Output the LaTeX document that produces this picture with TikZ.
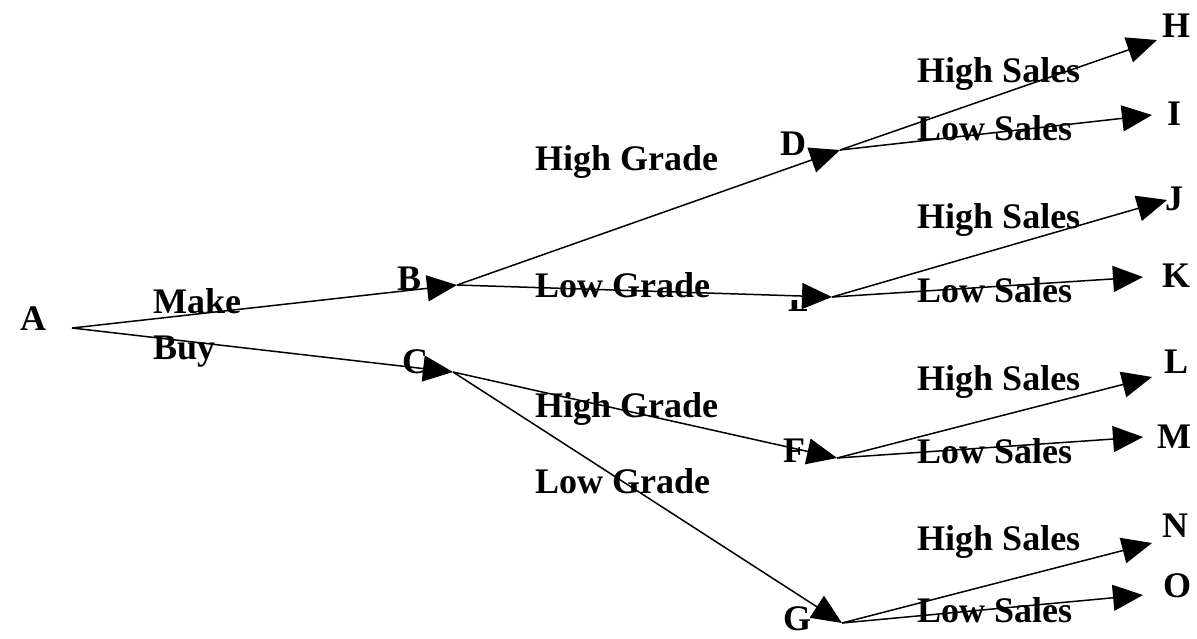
\documentclass[tikz,border=0pt]{standalone}
\usepackage{fontspec}
\setmainfont{Liberation Serif}
\usetikzlibrary{arrows.meta}
\tikzset{
  lbl/.style={anchor=base west, inner sep=0pt, font=\fontsize{36}{40}\selectfont\bfseries},
  branch/.style={line width=1.5pt, -{Triangle[length=30pt,width=26pt]}},
}
\begin{document}
\begin{tikzpicture}[x=1pt,y=-1pt]
\useasboundingbox (0,0) rectangle (1197,638);
% junction points where branches meet
\coordinate (a) at (72,328);
\coordinate (b) at (457,285);
\coordinate (c) at (453,372);
\coordinate (d) at (840,150);
\coordinate (e) at (832,297);
\coordinate (f) at (837,458);
\coordinate (g) at (842,623);
\coordinate (h) at (1157,40);
\coordinate (i) at (1152,115);
\coordinate (j) at (1167,200);
\coordinate (k) at (1143,277);
\coordinate (l) at (1152,377);
\coordinate (m) at (1143,437);
\coordinate (n) at (1152,543);
\coordinate (o) at (1143,595);
% node letters
\node[lbl] (tA) at (20,330) {A};
\node[lbl] (tB) at (397,290) {B};
\node[lbl] (tC) at (402,373) {C};
\node[lbl] (tD) at (780,155) {D};
\begin{scope}
  \clip (785,300) rectangle (806,316);
  \node[lbl] (tE) at (788,311) {E};
\end{scope}
\node[lbl] (tF) at (783,462) {F};
\node[lbl] (tG) at (783,630) {G};
\node[lbl] (tH) at (1162,37) {H};
\node[lbl] (tI) at (1167,125) {I};
\node[lbl] (tJ) at (1165,210) {J};
\node[lbl] (tK) at (1162,287) {K};
\node[lbl] (tL) at (1164,373) {L};
\node[lbl] (tM) at (1157,448) {M};
\node[lbl] (tN) at (1162,537) {N};
\node[lbl] (tO) at (1163,597) {O};
% branch labels
\node[lbl] (lMake) at (153,313) {Make};
\node[lbl] (lBuy) at (153,359) {Buy};
\node[lbl] (lBD) at (535,170) {High Grade};
\node[lbl] (lBE) at (535,297) {Low Grade};
\node[lbl] (lCF) at (535,417) {High Grade};
\node[lbl] (lCG) at (535,493) {Low Grade};
\node[lbl] (lDH) at (917,82) {High Sales};
\node[lbl] (lDI) at (917,140) {Low Sales};
\node[lbl] (lEJ) at (917,228) {High Sales};
\node[lbl] (lEK) at (917,302) {Low Sales};
\node[lbl] (lFL) at (917,390) {High Sales};
\node[lbl] (lFM) at (917,463) {Low Sales};
\node[lbl] (lGN) at (917,550) {High Sales};
\node[lbl] (lGO) at (917,622) {Low Sales};
% branches
\draw[branch] (a) -- (b);
\draw[branch] (a) -- (c);
\draw[branch] (b) -- (d);
\draw[branch] (b) -- (e);
\draw[branch] (c) -- (f);
\draw[branch] (c) -- (g);
\draw[branch] (d) -- (h);
\draw[branch] (d) -- (i);
\draw[branch] (e) -- (j);
\draw[branch] (e) -- (k);
\draw[branch] (f) -- (l);
\draw[branch] (f) -- (m);
\draw[branch] (g) -- (n);
\draw[branch] (g) -- (o);
\end{tikzpicture}
\end{document}
